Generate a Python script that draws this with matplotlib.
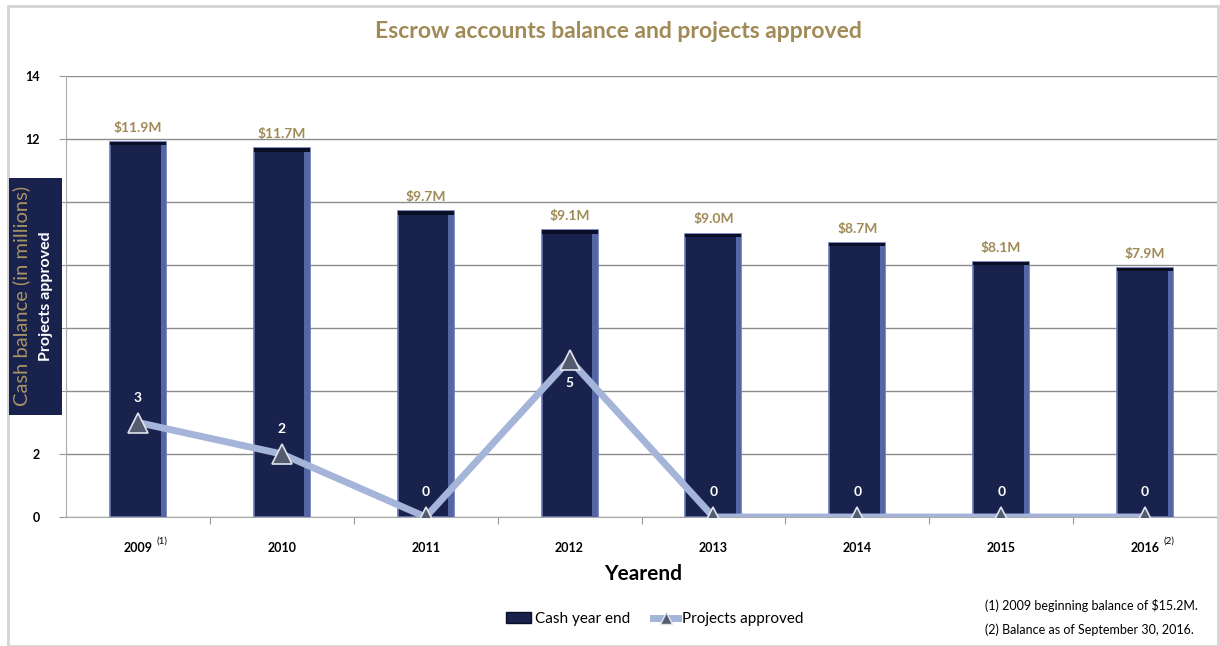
import matplotlib.pyplot as plt
from matplotlib.patches import Rectangle
from matplotlib.lines import Line2D

years = ['2009', '2010', '2011', '2012', '2013', '2014', '2015', '2016']
notes = ['(1)', '', '', '', '', '', '', '(2)']
cash = [11.9, 11.7, 9.7, 9.1, 9.0, 8.7, 8.1, 7.9]
cash_labels = ['$11.9M', '$11.7M', '$9.7M', '$9.1M', '$9.0M', '$8.7M', '$8.1M', '$7.9M']
projects = [3, 2, 0, 5, 0, 0, 0, 0]
yticks = [0, 2, 4, 6, 8, 10, 12, 14]
# labels 4-10 sit under the axis-title box in the original, so they stay blank
ytick_labels = ['0', '2', '', '', '', '', '12', '14']
footnotes = ['(1) 2009 beginning balance of $15.2M.', '(2) Balance as of September 30, 2016.']

plt.rcParams['font.family'] = ['Lato', 'DejaVu Sans']

navy = '#19214d'
edge = '#6878b8'
gold = '#a08a55'
line_col = '#a5b5d9'

fig = plt.figure(figsize=(12.2, 6.46), dpi=100)
ax = fig.add_axes([66 / 1220, 1 - 517 / 646, (1217 - 66) / 1220, (517 - 76) / 646])

x = list(range(len(years)))
w = 0.39
ax.bar(x, cash, width=w, color=navy, edgecolor=edge, linewidth=1.2, zorder=2)
# lighter right side, darker top to fake the bevel
ax.bar([i + w / 2 - 0.02 for i in x], cash, width=0.035, color='#5566a5', linewidth=0, zorder=3)
ax.bar(x, [0.1] * len(x), bottom=[c - 0.1 for c in cash], width=w, color='#0b0f25', linewidth=0, zorder=3)

for i, c in enumerate(cash):
    ax.annotate(cash_labels[i], (i, c), xytext=(0, 6), textcoords='offset points',
                ha='center', va='bottom', color=gold, fontsize=10, fontweight='bold')

ax.plot(x, projects, color=line_col, linewidth=5, marker='^', markersize=15,
        markerfacecolor='#555b6e', markeredgecolor='#dfe3ec', markeredgewidth=1.2, zorder=4)
for i, p in enumerate(projects):
    off = -17 if p == 5 else 18
    ax.annotate(str(p), (i, p), xytext=(0, off), textcoords='offset points',
                ha='center', va='center', color='white', fontsize=10, fontweight='bold', zorder=5)

ax.set_xlim(-0.5, 7.5)
ax.set_ylim(0, 14)
ax.set_yticks(yticks)
ax.set_yticklabels(ytick_labels, fontweight='bold', fontsize=9)
ax.yaxis.grid(True, color='#8c8c8c', linewidth=1)
ax.set_axisbelow(True)
ax.set_xticks([i + 0.5 for i in x[:-1]])
ax.set_xticklabels([])
ax.tick_params(axis='x', length=5, color='#999999')
ax.tick_params(axis='y', length=5, color='#999999', pad=14)
for s in ['top', 'right']:
    ax.spines[s].set_visible(False)
ax.spines['left'].set_color('#aaaaaa')
ax.spines['bottom'].set_color('#aaaaaa')

for i, yr in enumerate(years):
    ax.annotate(yr, (i, 0), xytext=(0, -22), textcoords='offset points', ha='center',
                va='center', fontsize=9, fontweight='bold', annotation_clip=False)
    if notes[i]:
        ax.annotate(notes[i], (i, 0), xytext=(17, -17), textcoords='offset points', ha='center',
                    va='center', fontsize=7, annotation_clip=False)

fig.text(643 / 1220, 1 - 574 / 646, 'Yearend', ha='center', va='center', fontsize=15, fontweight='bold')
fig.text(618 / 1220, 1 - 32 / 646, 'Escrow accounts balance and projects approved', ha='center',
         va='center', fontsize=16.5, fontweight='bold', color=gold)

# y-label box
fig.patches.append(Rectangle((9 / 1220, 1 - 415 / 646), 53 / 1220, 237 / 646,
                             transform=fig.transFigure, facecolor=navy, edgecolor='none', zorder=5))
fig.text(21 / 1220, 1 - 296 / 646, 'Cash balance (in millions)', rotation=90, ha='center', va='center',
         fontsize=14.5, color='#a99464', zorder=6)
fig.text(46 / 1220, 1 - 296 / 646, 'Projects approved', rotation=90, ha='center', va='center',
         fontsize=11.5, fontweight='bold', color='white', zorder=6)

# outer border
fig.patches.append(Rectangle((8 / 1220, 0), (1218 - 8) / 1220, 1 - 6 / 646, transform=fig.transFigure,
                             facecolor='none', edgecolor='#d4d4d4', linewidth=2, zorder=0))

handles = [Rectangle((0, 0), 1, 1, facecolor=navy, edgecolor='#0b0f25'),
           Line2D([], [], color=line_col, linewidth=5, marker='^', markersize=9,
                  markerfacecolor='#555b6e', markeredgecolor='#dfe3ec')]
fig.legend(handles, ['Cash year end', 'Projects approved'], loc='center',
           bbox_to_anchor=(655 / 1220, 1 - 619 / 646), ncol=2, frameon=False, fontsize=11,
           handlelength=1.6, handletextpad=0.3, columnspacing=1.5)

for k, t in enumerate(footnotes):
    fig.text(985 / 1220, 1 - (605 + 25 * k) / 646, t, ha='left', va='center', fontsize=9)

fig.savefig('out.png', dpi=100)
